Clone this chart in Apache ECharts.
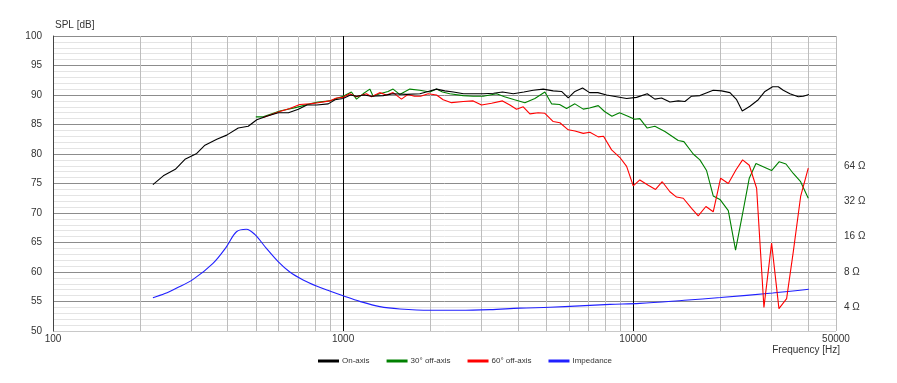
<!DOCTYPE html>
<html><head><meta charset="utf-8">
<script src="https://cdn.jsdelivr.net/npm/echarts@6/dist/echarts.min.js"></script>
<style>html,body{margin:0;padding:0;background:#fff}#c{width:897px;height:383px}</style>
</head><body><div id="c"></div>
<script>
// ---------- data ----------
const onAxisFreq = [221,240,264,285,313,334,367,397,435,471,504,545,598,648,701,750,811,889,938,1000,1060,1112,1180,1252,1374,1487,1654,1839,1964,2099,2242,2400,2600,2800,3040,3300,3544,3859,4200,4522,4896,5300,5662,5970,6295,6690,7071,7554,8094,8761,9490,10270,11176,11875,12525,13380,14295,15070,15890,16975,18870,20160,21545,22720,23760,25255,26980,28445,30230,31620,32900,34690,37070,38570,40340];
const onAxisSpl  = [74.8,76.3,77.4,79.1,80.1,81.5,82.5,83.2,84.4,84.7,85.8,86.4,87.0,87.0,87.6,88.3,88.3,88.5,89.2,89.4,90.0,89.8,90.0,89.8,89.9,90.2,90.1,90.2,90.6,91.0,90.7,90.5,90.2,90.2,90.2,90.3,90.5,90.2,90.5,90.8,91.0,90.7,90.6,89.5,90.6,91.2,90.4,90.4,90.0,89.7,89.4,89.6,90.2,89.3,89.5,88.8,89.0,88.9,89.8,89.9,90.8,90.7,90.4,89.2,87.3,88.1,89.2,90.6,91.4,91.4,90.8,90.2,89.7,89.8,90.1];

const off30Freq = [500,530,605,691,768,820,900,948,1000,1068,1112,1172,1236,1269,1337,1428,1487,1567,1698,1837,1991,2099,2200,2333,2594,2806,3040,3381,3600,3900,4232,4582,4960,5230,5574,5891,6295,6725,7071,7576,7965,8445,8974,9590,10110,10540,11176,11875,12860,14295,14950,16100,16975,17900,18870,19900,21270,22530,23950,25120,26490,29990,31870,33610,35620,37760,40120];
const off30Spl  = [86.3,86.3,87.3,87.9,88.5,88.8,89.0,89.4,89.8,90.5,89.3,90.2,91.0,89.8,90.2,90.6,91.0,90.1,91.0,90.8,90.5,91.0,90.5,90.2,89.9,89.8,89.8,90.2,89.7,89.2,88.7,89.4,90.5,88.5,88.4,87.7,88.5,87.6,87.8,88.2,87.2,86.4,87.0,86.4,85.9,86.0,84.4,84.7,83.8,82.3,82.1,80.0,79.0,77.2,72.9,72.3,70.4,63.7,70.5,75.9,78.4,77.2,78.7,78.3,76.7,75.3,72.5];

const off60Freq = [530,605,655,709,768,820,900,948,1000,1054,1112,1204,1252,1337,1410,1487,1589,1675,1760,1850,1964,2099,2213,2364,2594,2808,3000,3249,3544,3757,3961,4177,4404,4704,4960,5300,5588,5970,6300,6725,7090,7576,7900,8424,9000,9490,10000,10540,11265,11940,12590,13380,14105,14875,15890,16750,17805,18870,20010,21270,22590,23820,25120,26630,28220,29990,31790,33790,35620,37760,40120];
const off60Spl  = [86.2,87.2,87.7,88.4,88.5,88.7,89.0,89.5,89.6,90.2,89.7,90.2,89.7,90.4,90.0,90.4,89.3,90.1,89.8,89.8,90.2,90.0,89.2,88.7,88.9,89.0,88.3,88.6,89.0,88.3,87.6,88.0,86.8,87.0,86.9,85.5,85.3,84.1,83.9,83.5,83.7,82.9,83.0,80.7,79.4,77.9,74.6,75.6,74.7,74.0,75.3,73.6,72.7,72.5,70.8,69.5,71.1,70.2,75.9,75.0,77.3,79.0,78.1,74.2,54.0,64.9,53.8,55.5,63.4,72.8,77.6];

const impFreq = [221,243,266,304,356,396,429,464,496,544,597,655,728,809,899,1000,1141,1339,1569,1991,2526,3205,4065,5162,6551,8310,10540,15000,20000,30230,40300];
const impOhm  = [4.83,5.24,5.82,6.93,9.48,13.1,17.6,18.5,16.7,12.7,9.8,8.0,6.85,6.08,5.51,5.02,4.5,4.06,3.88,3.78,3.78,3.83,3.94,4.01,4.12,4.24,4.33,4.6,4.85,5.3,5.7];

const majorFreqs = [1000, 10000];
const minorFreqs = [200,300,400,500,600,700,800,900,2000,3000,4000,5000,6000,7000,8000,9000,20000,30000,40000,50000];
const impTickLabels = [4, 8, 16, 32, 64];
const seriesNames = ['On-axis', '30° off-axis', '60° off-axis', 'Impedance'];

// ---------- chart ----------
const pairs = (xs, ys) => xs.map((x, i) => [x, ys[i]]);
const FONT = '"Liberation Sans", Arial, sans-serif';
const chart = echarts.init(document.getElementById('c'), null, {renderer: 'canvas'});

const vLines = minorFreqs.map(f => ({xAxis: f, lineStyle: {color: '#bdbdbd', width: 1, type: 'solid'}}))
  .concat(majorFreqs.map(f => ({xAxis: f, lineStyle: {color: '#000', width: 1, type: 'solid'}})));

const hColors = ['#c8c8c8'].concat(new Array(10).fill('#8c8c8c'));

chart.setOption({
  animation: false,
  backgroundColor: '#fff',
  textStyle: {fontFamily: FONT},
  grid: {left: 53, right: 61, top: 36, bottom: 52},
  legend: {
    data: seriesNames, left: 313, top: 352, icon: 'rect', itemWidth: 21, itemHeight: 3, itemGap: 17,
    textStyle: {fontSize: 8, color: '#333', fontFamily: FONT, padding: [0, 0, 0, -2]}
  },
  xAxis: {
    type: 'log', logBase: 10, min: 100, max: 50000,
    axisLine: {show: false}, axisTick: {show: false}, splitLine: {show: false},
    axisLabel: {color: '#333', fontSize: 10, margin: 3, formatter: v => String(Math.round(v))},
    name: 'Frequency [Hz]', nameLocation: 'end', nameGap: 4,
    nameTextStyle: {color: '#333', fontSize: 10, align: 'right', verticalAlign: 'top', padding: [14, 0, 0, 0]}
  },
  yAxis: [
    {
      type: 'value', min: 50, max: 100, interval: 5,
      axisLine: {show: true, lineStyle: {color: '#444', width: 1}}, axisTick: {show: false},
      axisLabel: {color: '#333', fontSize: 10, margin: 11},
      splitLine: {show: true, lineStyle: {color: hColors, width: 1}},
      minorTick: {show: false, splitNumber: 5},
      minorSplitLine: {show: true, lineStyle: {color: '#e4e4e4', width: 1}},
      name: 'SPL [dB]', nameLocation: 'end', nameGap: 11,
      nameTextStyle: {color: '#333', fontSize: 10, align: 'left', verticalAlign: 'middle', padding: [0, 0, 0, 2]}
    },
    {
      type: 'log', logBase: 2, min: 2.5198, max: 812.75, position: 'right',
      axisLine: {show: false}, axisTick: {show: false}, splitLine: {show: false},
      axisLabel: {
        color: '#333', fontSize: 10, margin: 8,
        formatter: v => { const r = Math.round(v); return impTickLabels.indexOf(r) >= 0 && Math.abs(v - r) < 0.01 ? r + ' Ω' : ''; }
      }
    }
  ],
  series: [
    {
      name: seriesNames[3], type: 'line', yAxisIndex: 1, data: pairs(impFreq, impOhm),
      showSymbol: false, symbol: 'none', smooth: 0.35, color: '#2020ff', lineStyle: {width: 1.1}, z: 3,
      markLine: {silent: true, symbol: 'none', z: 1, label: {show: false}, emphasis: {disabled: true}, data: vLines}
    },
    {name: seriesNames[1], type: 'line', data: pairs(off30Freq, off30Spl), showSymbol: false, symbol: 'none', color: '#008000', lineStyle: {width: 1.1}, z: 4},
    {name: seriesNames[2], type: 'line', data: pairs(off60Freq, off60Spl), showSymbol: false, symbol: 'none', color: '#ff0000', lineStyle: {width: 1.1}, z: 5},
    {name: seriesNames[0], type: 'line', data: pairs(onAxisFreq, onAxisSpl), showSymbol: false, symbol: 'none', color: '#000000', lineStyle: {width: 1.1}, z: 6}
  ]
});
</script>
</body></html>
